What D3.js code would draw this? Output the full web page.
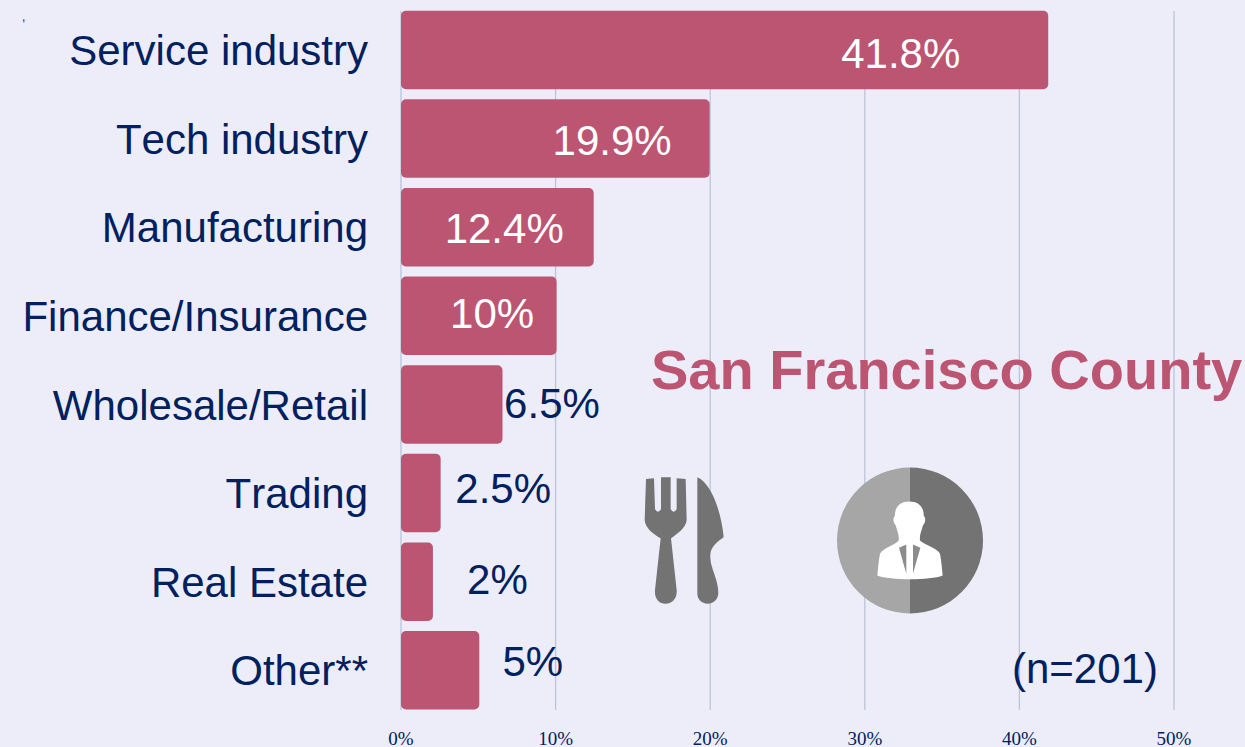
<!DOCTYPE html>
<html>
<head>
<meta charset="utf-8">
<script src="https://cdnjs.cloudflare.com/ajax/libs/d3/7.8.5/d3.min.js"></script>
<style>
  html, body { margin: 0; padding: 0; background: #ecedf8; }
  svg { display: block; }
  text { font-family: "Liberation Sans", Arial, sans-serif; }
  .x.axis text { font-family: "Liberation Serif", serif; font-size: 19px; fill: #002060; }
  .x.axis line { stroke: #bcc4dc; stroke-width: 1.3; }
  .x.axis path { display: none; }
  .no-kern text { font-kerning: none; }
</style>
</head>
<body>
<div id="chart"></div>
<script>
// Data.
const categories = ['Service industry', 'Tech industry', 'Manufacturing', 'Finance/Insurance',
  'Wholesale/Retail', 'Trading', 'Real Estate', 'Other**'];
const values = [41.8, 19.9, 12.4, 10, 6.5, 2.5, 2, 5];
const valueLabels = ['41.8%', '19.9%', '12.4%', '10%', '6.5%', '2.5%', '2%', '5%'];
const xTicks = [0, 10, 20, 30, 40, 50];

// Label nudges, the original labels were placed by hand.
const labelDx = [-146.5, -96.5, -88.5, -63.5, 50.5, 63.5, 65.5, 54.5];
const labelDy = [3, 1, 1, -3, -2, -5, -3, -9];

const width = 1245, height = 747;
const navy = '#002060', rose = '#bc5572';

// Scales.
const xScale = d3.scaleLinear().domain([0, 50]).range([401, 1174]);
const yScale = d3.scaleBand().domain(categories).range([5.6, 714.6]).paddingInner(0.115).paddingOuter(0.0575);

const svg = d3.select('#chart').append('svg')
  .attr('width', width)
  .attr('height', height);

svg.append('rect').attr('width', width).attr('height', height).attr('fill', '#ecedf8');

// Stray mark top left.
svg.append('text').attr('x', 22).attr('y', 21).attr('font-size', 12).attr('fill', '#002060').text(',');

// Draw x axis with full height grid lines.
const xAxis = d3.axisBottom(xScale)
  .tickValues(xTicks)
  .tickFormat(d => `${d}%`)
  .tickSizeInner(-699)
  .tickSizeOuter(0)
  .tickPadding(22)
  .offset(0);

svg.append('g')
  .attr('class', 'x axis')
  .attr('transform', 'translate(0,710)')
  .call(xAxis);

// Draw bars.
svg.append('g').selectAll('rect')
  .data(values)
  .join('rect')
  .attr('x', xScale(0))
  .attr('y', (d, i) => yScale(categories[i]))
  .attr('width', d => xScale(d) - xScale(0) + 1)
  .attr('height', yScale.bandwidth())
  .attr('rx', 5)
  .attr('fill', rose);

// Category labels.
svg.append('g').attr('class', 'no-kern').selectAll('text')
  .data(categories)
  .join('text')
  .attr('x', 368)
  .attr('y', d => yScale(d) + yScale.bandwidth() / 2 + 0.5)
  .attr('dy', '0.35em')
  .attr('text-anchor', 'end')
  .attr('font-size', 42)
  .attr('fill', navy)
  .text(d => d);

// Value labels.
svg.append('g').selectAll('text')
  .data(values)
  .join('text')
  .attr('x', (d, i) => xScale(d) + labelDx[i])
  .attr('y', (d, i) => yScale(categories[i]) + yScale.bandwidth() / 2 + labelDy[i] + 0.5)
  .attr('dy', '0.35em')
  .attr('text-anchor', 'middle')
  .attr('font-size', 42)
  .attr('fill', (d, i) => i < 4 ? '#fff' : navy)
  .text((d, i) => valueLabels[i]);

// Title and n.
svg.append('text')
  .attr('x', 651).attr('y', 389)
  .attr('font-size', 56).attr('font-weight', 'bold')
  .attr('fill', rose)
  .text('San Francisco County');

svg.append('text')
  .attr('x', 1012).attr('y', 683)
  .attr('font-size', 42)
  .attr('fill', navy)
  .text('(n=201)');

// Fork and knife icon, traced at 3x.
const cutlery = svg.append('g')
  .attr('transform', 'translate(630,460) scale(0.3333)')
  .attr('fill', '#737373');

cutlery.append('path').attr('d',
  'M48,57 L72,55 L75,148 Q84,162 93,148 L93,52 L122,52 L122,148 Q131,162 140,148 L140,55 L167,57 ' +
  'L170,180 C168,205 140,222 123,235 L140,390 C142,415 128,431 107,431 C86,431 73,415 75,390 ' +
  'L92,235 C70,222 46,205 44,180 Z');

cutlery.append('path').attr('d',
  'M202,52 C245,70 275,160 281,232 C262,245 240,262 240,290 C242,325 265,360 265,398 ' +
  'C265,418 250,431 233,431 C215,431 202,418 202,400 Z');

// Person icon in a two tone circle.
const person = svg.append('g').attr('transform', 'translate(910,540.5)');
const halfCircle = d3.arc().innerRadius(0).outerRadius(73);

person.append('path')
  .attr('d', halfCircle({ startAngle: -Math.PI, endAngle: 0 }))
  .attr('fill', '#a6a6a6');
person.append('path')
  .attr('d', halfCircle({ startAngle: 0, endAngle: Math.PI }))
  .attr('fill', '#737373');

const figure = person.append('g').attr('transform', 'scale(0.3333) translate(-240,-240)');

figure.append('path').attr('fill', '#fff').attr('d',
  'M238,123 C266,123 282,140 281,165 C288,172 287,187 279,194 C274,212 268,224 270,240 ' +
  'C285,254 322,262 330,280 C334,300 336,325 338,345 C300,360 180,360 142,345 ' +
  'C144,325 146,300 150,280 C158,262 195,254 206,240 C208,224 202,212 197,194 ' +
  'C189,187 188,172 195,165 C194,140 210,123 238,123 Z');

figure.append('path').attr('fill', '#8c8c8c').attr('d', 'M207,262 L229,252 L229,340 Z');
figure.append('path').attr('fill', '#8c8c8c').attr('d', 'M271,262 L249,252 L249,340 Z');
</script>
</body>
</html>
